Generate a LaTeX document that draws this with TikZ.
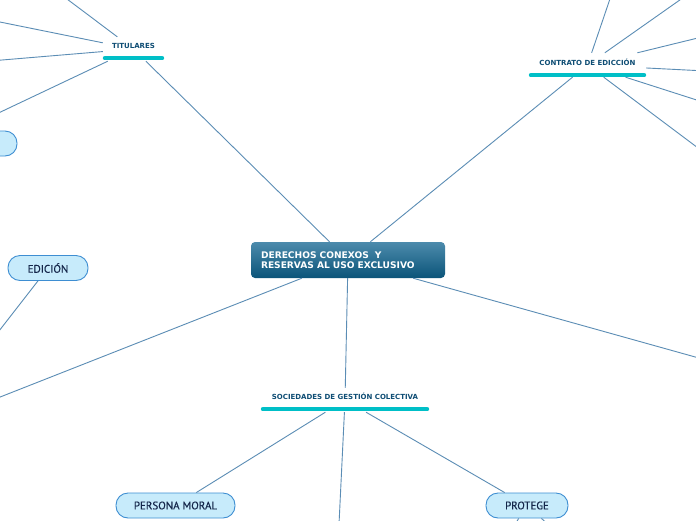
\documentclass[tikz,border=0pt]{standalone}
\usepackage{fontspec}
\setmainfont{DejaVu Sans}
\newfontfamily\boxfont[FakeBold=0.35]{PT Sans}
\definecolor{lineblue}{HTML}{5B8DB5}
\definecolor{boxfill}{HTML}{C7EBFB}
\definecolor{boxborder}{HTML}{3E8ED2}
\definecolor{navytext}{HTML}{14264A}
\definecolor{labelblue}{HTML}{0E4D74}
\definecolor{barteal}{HTML}{00BFC7}
\definecolor{maintop}{HTML}{4C8BAC}
\definecolor{mainbot}{HTML}{0B5479}
\tikzset{
  conn/.style={draw=lineblue, line width=0.9pt},
  topic/.style={rectangle, rounded corners=12pt, fill=boxfill, draw=boxborder,
    line width=0.9pt, font=\boxfont\fontsize{11}{12}\selectfont, text=navytext,
    minimum height=25pt, inner sep=0pt},
  sublabel/.style={rectangle, minimum height=24pt, inner sep=0pt, text height=5pt,
    text depth=0pt, font=\bfseries\fontsize{7}{8}\selectfont, text=labelblue},
  labelbar/.style={draw=barteal, line width=4pt, line cap=round},
  mainnode/.style={rectangle, rounded corners=4pt, top color=maintop, bottom color=mainbot,
    draw=none, text=white, font=\bfseries\fontsize{9.1}{10.4}\selectfont,
    text width=174pt, align=left, inner xsep=10pt, inner ysep=0pt,
    minimum width=194pt, minimum height=36pt}
}
\begin{document}
\begin{tikzpicture}[x=1pt,y=-1pt]
\useasboundingbox (0,0) rectangle (696,520);
\clip (0,0) rectangle (696,520);
\fill[white] (0,0) rectangle (696,520);

% nodes
\node[mainnode] (c) at (348,260) {DERECHOS CONEXOS\ \ Y\\RESERVAS AL USO EXCLUSIVO};
\node[sublabel, minimum width=61pt] (tit) at (133.5,49) {\raisebox{3pt}{TITULARES}};
\node[sublabel, minimum width=117pt] (con) at (587.5,65) {\raisebox{2pt}{CONTRATO DE EDICCIÓN}};
\node[sublabel, minimum width=168pt] (soc) at (345,400) {\raisebox{3pt}{SOCIEDADES DE GESTIÓN COLECTIVA}};
\node[topic, minimum width=80pt] (edi) at (48,268) {EDICIÓN};
\node[topic, minimum width=119pt] (per) at (175.5,505.5) {PERSONA MORAL};
\node[topic, minimum width=82pt] (pro) at (527,505.5) {PROTEGE};
\node[topic, minimum width=80pt] (lft) at (-23,143.5) {};

% label bars
\draw[labelbar] ([xshift=2pt,yshift=3pt]tit.south west) -- ([xshift=-2pt,yshift=3pt]tit.south east);
\draw[labelbar] ([xshift=2pt,yshift=2pt]con.south west) -- ([xshift=-2pt,yshift=2pt]con.south east);
\draw[labelbar] ([xshift=2pt,yshift=3pt]soc.south west) -- ([xshift=-2pt,yshift=3pt]soc.south east);

% free ends
\coordinate (t1) at (55,-10);
\coordinate (t2) at (-10,20);
\coordinate (t3) at (-10,61);
\coordinate (t4) at (-10,117);
\coordinate (k1) at (613,-10);
\coordinate (k2) at (694,-10);
\coordinate (k3) at (706,36);
\coordinate (k4) at (706,71);
\coordinate (k5) at (706,103);
\coordinate (k6) at (706,154);
\coordinate (e1) at (-8,340);
\coordinate (m1) at (-10,401);
\coordinate (m2) at (706,360);
\coordinate (s1) at (338,545);
\coordinate (p1) at (511,530.5);
\coordinate (p2) at (555,530.5);

% connectors
\draw[conn] (c) -- (tit);
\draw[conn] (c) -- (con);
\draw[conn] (c) -- (soc);
\draw[conn] (c) -- (m1);
\draw[conn] (c) -- (m2);
\draw[conn] (tit) -- (t1);
\draw[conn] (tit) -- (t2);
\draw[conn] (tit) -- (t3);
\draw[conn] (tit) -- (t4);
\draw[conn] (con) -- (k1);
\draw[conn] (con) -- (k2);
\draw[conn] (con) -- (k3);
\draw[conn] (con) -- (k4);
\draw[conn] (con) -- (k5);
\draw[conn] (con) -- (k6);
\draw[conn] (edi) -- (e1);
\draw[conn] (soc) -- (per);
\draw[conn] (soc) -- (pro);
\draw[conn] (soc) -- (s1);
\draw[conn] (pro) -- (p1);
\draw[conn] (pro) -- (p2);
\end{tikzpicture}
\end{document}
